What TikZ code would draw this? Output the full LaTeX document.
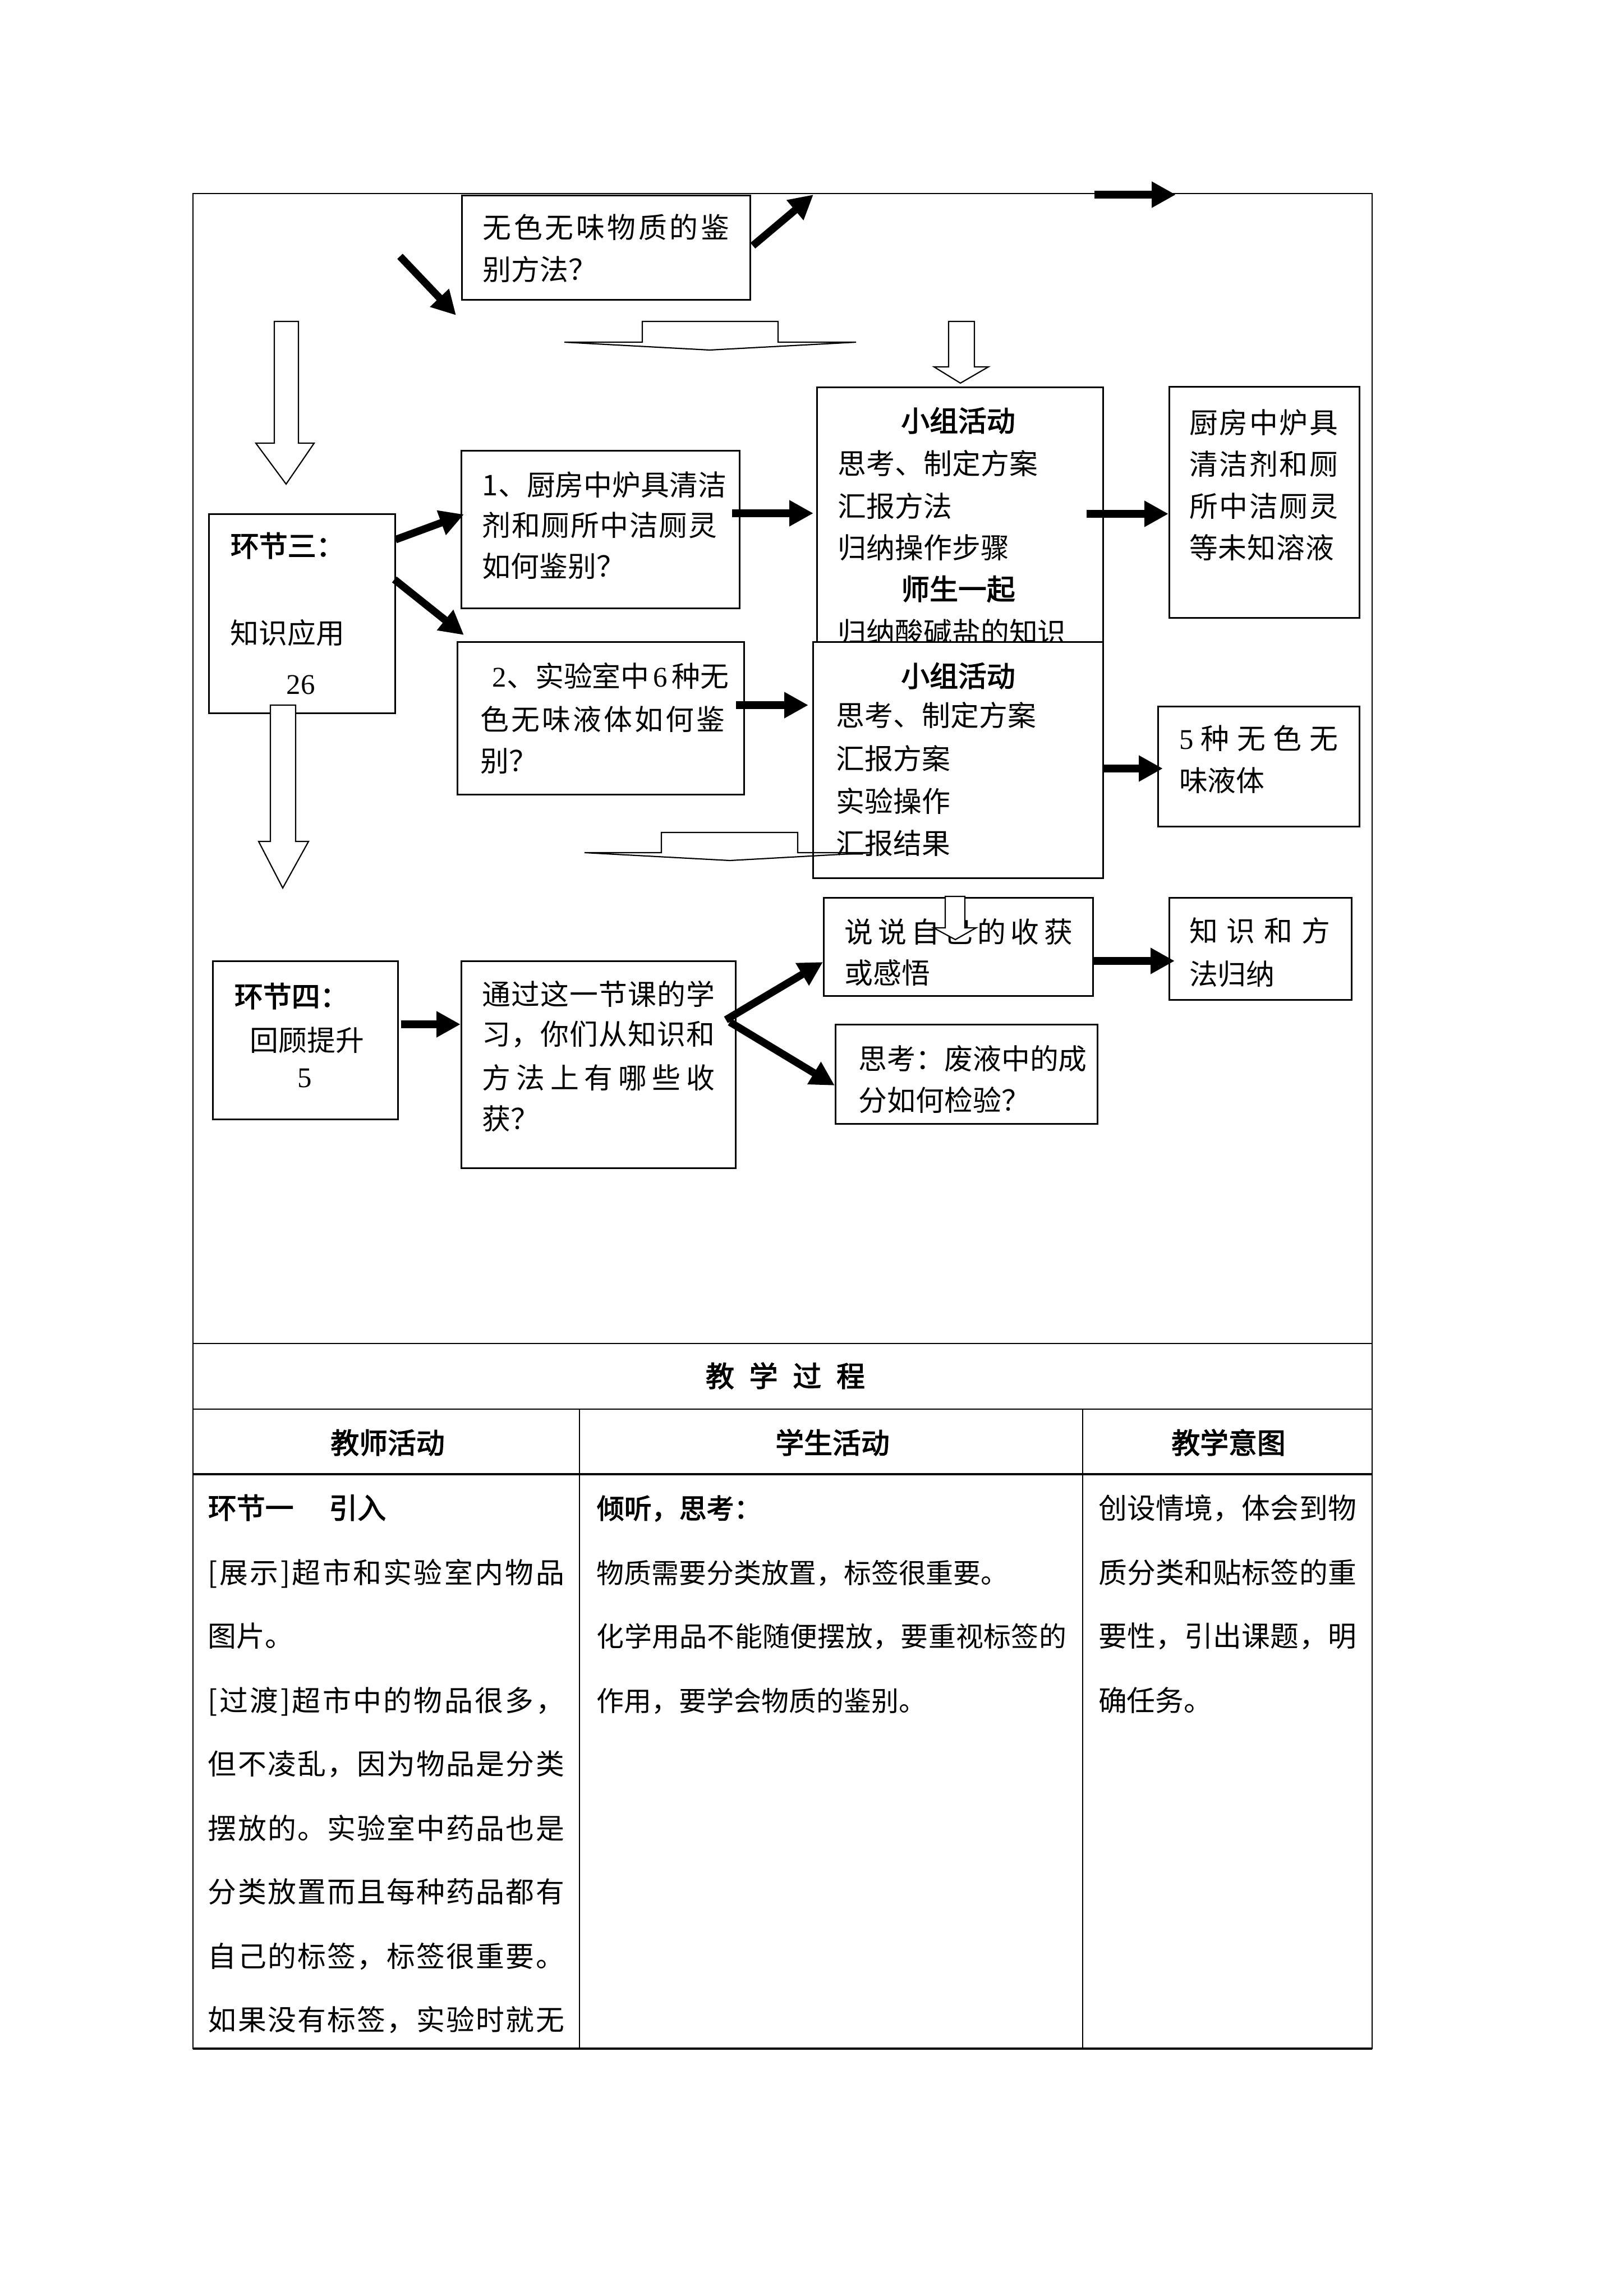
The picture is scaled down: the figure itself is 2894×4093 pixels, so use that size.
\documentclass[tikz,border=0pt]{standalone}
\usepackage{fontspec}
\setmainfont{Noto Sans CJK SC}[AutoFakeBold=2.5]
\newfontfamily\tnr{Liberation Serif}
\usetikzlibrary{arrows.meta}
\newlength\px \setlength\px{0.072571mm}
\def\gobbleone#1{}
\def\spreadA#1#2{#1\ifx\relax#2\expandafter\gobbleone\else\hfill\expandafter\spreadA\fi#2}
\newcommand\J[2]{\makebox[#1\px][l]{\spreadA#2\relax}}
\newcommand\fA{\fontsize{10.5pt}{12pt}\selectfont}
\newcommand\fB{\fontsize{10.1pt}{12pt}\selectfont}
\begin{document}
\begin{tikzpicture}[x=0.072571mm, y=-0.072571mm,
  tbl/.style={line width=0.5pt},
  tblk/.style={line width=0.7pt},
  bx/.style={draw, line width=0.65pt, fill=white, inner sep=0pt, anchor=north west},
  txt/.style={inner sep=0pt, anchor=base west, font=\fA},
  ctxt/.style={inner sep=0pt, anchor=base, font=\fA},
  arr/.style={line width=0.97mm, -{Triangle[length=3.12mm, width=3.19mm]}},
  blk/.style={draw, line width=0.45pt, line join=miter}
]
\useasboundingbox (0,0) rectangle (2894,4093);

% ---------------- table frame ----------------
\draw[tbl] (344,345) rectangle (2446,3652);
\draw[tbl] (344,2395) -- (2446,2395);
\draw[tbl] (344,2512) -- (2446,2512);
\draw[tblk] (344,2628) -- (2446,2628);
\draw[tblk] (344,3652) -- (2446,3652);
\draw[line width=0.35pt] (1033,2512) -- (1033,3652);
\draw[line width=0.35pt] (1930,2512) -- (1930,3652);

% ---------------- boxes ----------------
\node[bx, minimum width=514\px, minimum height=186\px] (B1) at (822,347) {};
\node[txt] (B1a) at (860,425) {\J{439}{无色无味物质的鉴}};
\node[txt] (B1b) at (860,500) {别方法？};

\node[bx, minimum width=332\px, minimum height=355\px] (B3) at (371,915) {};
\node[txt] (B3a) at (410,992) {\bfseries 环节三：};
\node[txt] (B3b) at (410,1147) {知识应用};
\node[ctxt] (B3c) at (536,1237) {\tnr 26};

\node[bx, minimum width=496\px, minimum height=281\px] (B2) at (821,802) {};
\node[txt] (B2a) at (859,883) {\J{418}{1、厨房中炉具清洁}};
\node[txt] (B2b) at (859,955) {\J{418}{剂和厕所中洁厕灵}};
\node[txt] (B2c) at (859,1028) {如何鉴别？};

\node[bx, minimum width=510\px, minimum height=611\px] (G1) at (1455,689) {};
\node[ctxt] (G1a) at (1708,769) {\bfseries 小组活动};
\node[txt] (G1b) at (1493,845) {思考、制定方案};
\node[txt] (G1c) at (1493,921) {汇报方法};
\node[txt] (G1d) at (1493,995) {归纳操作步骤};
\node[ctxt] (G1e) at (1708,1069) {\bfseries 师生一起};
\node[txt] (G1f) at (1493,1146) {\J{404}{归纳酸碱盐的知识}};

\node[bx, minimum width=339\px, minimum height=412\px] (R1) at (2083,688) {};
\node[txt] (R1a) at (2119,772) {\J{265}{厨房中炉具}};
\node[txt] (R1b) at (2119,847) {\J{265}{清洁剂和厕}};
\node[txt] (R1c) at (2119,921) {\J{265}{所中洁厕灵}};
\node[txt] (R1d) at (2119,995) {\J{258}{等未知溶液}};

\node[bx, minimum width=511\px, minimum height=272\px] (B4) at (814,1143) {};
\node[txt] (B4a) at (877,1224) {\makebox[421\px][l]{{\tnr 2}、实验室中\hfill{\tnr 6}\hfill 种无}};
\node[txt] (B4b) at (856,1301) {\J{435}{色无味液体如何鉴}};
\node[txt] (B4c) at (856,1375) {别？};

\node[bx, minimum width=517\px, minimum height=421\px] (G2) at (1448,1143) {};
\node[ctxt] (G2a) at (1708,1224) {\bfseries 小组活动};
\node[txt] (G2b) at (1490,1294) {思考、制定方案};
\node[txt] (G2c) at (1490,1371) {汇报方案};
\node[txt] (G2d) at (1490,1447) {实验操作};
\node[txt] (G2e) at (1490,1522) {汇报结果};

\node[bx, minimum width=359\px, minimum height=214\px] (R2) at (2063,1258) {};
\node[txt] (R2a) at (2101,1335) {\makebox[283\px][l]{{\tnr 5}\hfill 种\hfill 无\hfill 色\hfill 无}};
\node[txt] (R2b) at (2101,1410) {味液体};

\node[bx, minimum width=330\px, minimum height=282\px] (B5) at (378,1712) {};
\node[txt] (B5a) at (417,1795) {\bfseries 环节四：};
\node[txt] (B5b) at (445,1873) {回顾提升};
\node[ctxt] (B5c) at (543,1938) {\tnr 5};

\node[bx, minimum width=489\px, minimum height=369\px] (B6) at (821,1712) {};
\node[txt] (B6a) at (859,1791) {\J{414}{通过这一节课的学}};
\node[txt] (B6b) at (859,1862) {\J{414}{习，你们从知识和}};
\node[txt] (B6c) at (859,1940) {\J{414}{方法上有哪些收}};
\node[txt] (B6d) at (859,2013) {获？};

\node[bx, minimum width=480\px, minimum height=175\px] (B7) at (1467,1599) {};
\node[txt] (B7a) at (1505,1680) {\J{406}{说说自己的收获}};
\node[txt] (B7b) at (1505,1753) {或感悟};

\node[bx, minimum width=325\px, minimum height=182\px] (B8) at (2083,1599) {};
\node[txt] (B8a) at (2119,1678) {\J{251}{知识和方}};
\node[txt] (B8b) at (2119,1755) {法归纳};

\node[bx, minimum width=467\px, minimum height=177\px] (B9) at (1488,1825) {};
\node[txt] (B9a) at (1530,1906) {\J{388}{思考：废液中的成}};
\node[txt] (B9b) at (1530,1980) {分如何检验？};

% ---------------- thick arrows ----------------
\coordinate (a1s) at (713,457);  \coordinate (a1e) at (813,562);
\coordinate (a2s) at (1342,438); \coordinate (a2e) at (1450,347);
\coordinate (a3s) at (1951,347); \coordinate (a3e) at (2096,347);
\coordinate (a4s) at (705,962);  \coordinate (a4e) at (827,917);
\coordinate (a5s) at (703,1033); \coordinate (a5e) at (827,1132);
\coordinate (a6s) at (1305,915); \coordinate (a6e) at (1450,915);
\coordinate (a7s) at (1937,916); \coordinate (a7e) at (2083,916);
\coordinate (a8s) at (1312,1257); \coordinate (a8e) at (1441,1257);
\coordinate (a9s) at (1965,1370); \coordinate (a9e) at (2073,1370);
\coordinate (a10s) at (715,1826); \coordinate (a10e) at (821,1826);
\coordinate (a11s) at (1294,1818); \coordinate (a11e) at (1467,1715);
\coordinate (a12s) at (1301,1822); \coordinate (a12e) at (1488,1935);
\coordinate (a13s) at (1947,1713); \coordinate (a13e) at (2094,1713);
\draw[arr] (a1s) -- (a1e);
\draw[arr] (a2s) -- (a2e);
\draw[arr] (a3s) -- (a3e);
\draw[arr] (a4s) -- (a4e);
\draw[arr] (a5s) -- (a5e);
\draw[arr] (a6s) -- (a6e);
\draw[arr] (a7s) -- (a7e);
\draw[arr] (a8s) -- (a8e);
\draw[arr] (a9s) -- (a9e);
\draw[arr] (a10s) -- (a10e);
\draw[arr] (a11s) -- (a11e);
\draw[arr] (a12s) -- (a12e);
\draw[arr] (a13s) -- (a13e);

% ---------------- hollow block arrows ----------------
\draw[blk, fill=white] (489,573) -- (532,573) -- (532,790) -- (560,790) -- (510,863) -- (456,790) -- (489,790) -- cycle;
\draw[blk, fill=white] (482,1257) -- (527,1257) -- (527,1500) -- (550,1500) -- (504,1583) -- (461,1500) -- (482,1500) -- cycle;
\draw[blk] (1145,573) -- (1387,573) -- (1387,610) -- (1526,610) -- (1265,624) -- (1006,610) -- (1145,610) -- cycle;
\draw[blk, fill=white] (1691,573) -- (1737,573) -- (1737,654) -- (1762,654) -- (1712,683) -- (1665,654) -- (1691,654) -- cycle;
\draw[blk] (1179,1484) -- (1422,1484) -- (1422,1520) -- (1554,1520) -- (1301,1534) -- (1042,1520) -- (1179,1520) -- cycle;
\draw[blk, fill=white] (1685,1598) -- (1720,1598) -- (1720,1654) -- (1740,1654) -- (1703,1675) -- (1664,1654) -- (1685,1654) -- cycle;

% ---------------- table texts ----------------
\node[txt] (T0) at (1257,2472) {\bfseries\J{284}{教学过程}};
\node[ctxt] (H1) at (691,2591) {\bfseries 教师活动};
\node[ctxt] (H2) at (1484,2591) {\bfseries 学生活动};
\node[ctxt] (H3) at (2190,2591) {\bfseries 教学意图};

\node[txt] (C1a) at (370,2707) {\bfseries 环节一\hspace{63\px}引入};
\node[txt] (C1b) at (370,2822) {\J{635}{[展示]超市和实验室内物品}};
\node[txt] (C1c) at (370,2935) {图片。};
\node[txt] (C1d) at (370,3050) {\J{635}{[过渡]超市中的物品很多，}};
\node[txt] (C1e) at (370,3163) {\J{635}{但不凌乱，因为物品是分类}};
\node[txt] (C1f) at (370,3278) {\J{635}{摆放的。实验室中药品也是}};
\node[txt] (C1g) at (370,3391) {\J{635}{分类放置而且每种药品都有}};
\node[txt] (C1h) at (370,3506) {\J{635}{自己的标签，标签很重要。}};
\node[txt] (C1i) at (370,3619) {\J{635}{如果没有标签，实验时就无}};

\node[txt, font=\fB] (C2a) at (1063,2707) {\bfseries 倾听，思考：};
\node[txt, font=\fB] (C2b) at (1063,2822) {物质需要分类放置，标签很重要。};
\node[txt, font=\fB] (C2c) at (1063,2935) {\J{837}{化学用品不能随便摆放，要重视标签的}};
\node[txt, font=\fB] (C2d) at (1063,3050) {作用，要学会物质的鉴别。};

\node[txt] (C3a) at (1957,2707) {\J{460}{创设情境，体会到物}};
\node[txt] (C3b) at (1957,2822) {\J{460}{质分类和贴标签的重}};
\node[txt] (C3c) at (1957,2935) {\J{460}{要性，引出课题，明}};
\node[txt] (C3d) at (1957,3050) {确任务。};
\end{tikzpicture}
\end{document}
